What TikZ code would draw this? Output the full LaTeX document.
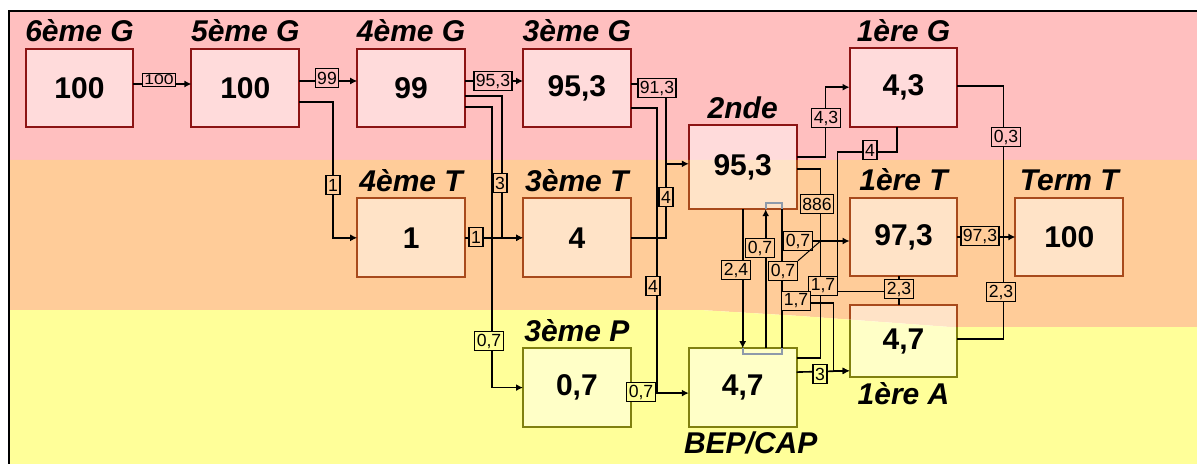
\documentclass[tikz,border=0pt]{standalone}
\usepackage{fontspec}
\setmainfont{Liberation Sans}
\usetikzlibrary{arrows.meta,positioning,calc}
\definecolor{bandP}{HTML}{FFBFBF}
\definecolor{bandO}{HTML}{FFCC99}
\definecolor{bandY}{HTML}{FFFF99}
\definecolor{edgeP}{HTML}{8C1414}
\definecolor{edgeO}{HTML}{A84A1C}
\definecolor{edgeY}{HTML}{808010}
\definecolor{selGray}{HTML}{8E9AAA}

\begin{document}
\begin{tikzpicture}[
    x=0.5pt, y=-0.5pt,
    node distance=35.5pt and 29pt,
    cls/.style={rectangle, fill=white, fill opacity=0.45, text opacity=1, inner sep=0pt, minimum width=53.5pt, minimum height=39pt, font=\fontsize{15}{17}\selectfont\bfseries},
    ttl/.style={inner sep=0pt, font=\fontsize{15}{17}\selectfont\bfseries\itshape},
    lbl/.style={draw, line width=0.7pt, fill=bandO, inner xsep=1pt, inner ysep=0pt, minimum height=9.5pt, font=\fontsize{8.8}{9}\selectfont},
    lblp/.style={lbl, fill=bandP},
    lbly/.style={lbl, fill=bandY},
    link/.style={line width=0.8pt},
    arrow/.style={link, -{Latex[length=3.5pt,width=3.5pt]}},
    rim/.style={line width=1pt}
  ]
  \useasboundingbox (0,0) rectangle (1197,464);
  % background bands
  \fill[bandP] (9,11) rectangle (1197,160);
  \fill[bandO] (9,160) -- (1197,160) -- (1197,327) -- (950,327) -- (800,316) -- (700,310) -- (9,310) -- cycle;
  \fill[bandY] (9,310) -- (700,310) -- (800,316) -- (950,327) -- (1197,327) -- (1197,464) -- (9,464) -- cycle;
  \draw[line width=1pt] (9,464) -- (9,11) -- (1197,11);

  % classes
  \node[cls] (g6) at (79.5,88) {100};
  \node[cls, right=of g6] (g5) {100};
  \node[cls, right=of g5] (g4) {99};
  \node[cls, right=of g4] (g3) {95,3};
  \node[cls, below=of g4] (t4) {1};
  \node[cls, below=of g3] (t3) {4};
  \node[cls, below=of t3] (p3) {0,7};
  \node[cls, right=of p3] (bep) {4,7};
  \node[cls, minimum height=41.5pt, above=69.5pt of bep] (sec) {95,3};
  \node[cls] (t1) at (903.5,237) {97,3};
  \node[cls, above=of t1] (g1) {4,3};
  \node[cls, right=of t1] (tt) {100};
  \node[cls, minimum height=35.5pt, below=14.5pt of t1] (a1) {4,7};

  \node[ttl, above=3pt of g6] (n6g) {6ème G};
  \node[ttl, above=3pt of g5] (n5g) {5ème G};
  \node[ttl, above=3pt of g4] (n4g) {4ème G};
  \node[ttl, above=3pt of g3] (n3g) {3ème G};
  \node[ttl, above=3pt of sec] (nsec) {2nde};
  \node[ttl, above=3pt of g1] (n1g) {1ère G};
  \node[ttl, above=3pt of t4] (n4t) {4ème T};
  \node[ttl, above=3pt of t3] (n3t) {3ème T};
  \node[ttl, above=3pt of t1] (n1t) {1ère T};
  \node[ttl, above=3pt of tt] (ntt) {Term T};
  \node[ttl, above=3pt of p3] (n3p) {3ème P};
  \node[ttl, below=2.3pt of bep, xshift=4pt] (nbep) {BEP/CAP};
  \node[ttl, below=2.5pt of a1] (n1a) {1ère A};

  % box edges take the colour of their band
  \begin{scope}
    \clip (9,11) rectangle (1197,160);
    \draw[rim, edgeP] (g6.south west) rectangle (g6.north east) (g5.south west) rectangle (g5.north east)
      (g4.south west) rectangle (g4.north east) (g3.south west) rectangle (g3.north east)
      (sec.south west) rectangle (sec.north east) (g1.south west) rectangle (g1.north east);
  \end{scope}
  \begin{scope}
    \clip (9,160) -- (1197,160) -- (1197,327) -- (950,327) -- (800,316) -- (700,310) -- (9,310) -- cycle;
    \draw[rim, edgeO] (t4.south west) rectangle (t4.north east) (t3.south west) rectangle (t3.north east)
      (t1.south west) rectangle (t1.north east) (tt.south west) rectangle (tt.north east)
      (sec.south west) rectangle (sec.north east) (a1.south west) rectangle (a1.north east);
  \end{scope}
  \begin{scope}
    \clip (9,310) -- (700,310) -- (800,316) -- (950,327) -- (1197,327) -- (1197,464) -- (9,464) -- cycle;
    \draw[rim, edgeY] (p3.south west) rectangle (p3.north east) (bep.south west) rectangle (bep.north east)
      (a1.south west) rectangle (a1.north east);
  \end{scope}

  % college
  \draw[arrow] ($(g6.east)+(0,-4)$) -- ($(g5.west)+(0,-4)$);
  \draw[arrow] ($(g5.east)+(0,-7)$) -- ($(g4.west)+(0,-7)$);
  \draw[arrow] ($(g5.east)+(0,14)$) -| ($(t4.west)+(-24,0)$) -- (t4.west);
  \draw[arrow] ($(g4.east)+(0,-7)$) -- ($(g3.west)+(0,-7)$);
  \draw[arrow] ($(g4.east)+(0,8)$) -| ($(t3.west)+(-21,0)$) -- (t3.west);
  \draw[arrow] ($(g4.east)+(0,19)$) -| ($(p3.west)+(-31,0)$) -- (p3.west);
  \draw[arrow] (t4) -- (t3);

  % into 2nde and BEP/CAP
  \coordinate (jS) at ($(sec.west)+(-23,-3.5)$);
  \draw[link] ($(g3.east)+(0,-4)$) -| (jS);
  \draw[link] (t3.east) -| (jS);
  \draw[arrow] (jS) -- ($(sec.west)+(0,-3.5)$);
  \draw[arrow] ($(g3.east)+(0,20)$) -| ($(bep.west)+(-32,5.5)$) -- ($(bep.west)+(0,5.5)$);
  \draw[link] ($(p3.east)+(0,5.5)$) -- ($(bep.west)+(-32,5.5)$);

  % out of 2nde and BEP/CAP
  \draw[arrow] ($(sec.east)+(0,-10.5)$) -| ($(g1.west)+(-24,0)$) -- (g1.west);
  \coordinate (jT) at ($(t1.west)+(-29,4)$);
  \draw[link] ($(sec.east)+(0,1.5)$) -| (jT);
  \draw[arrow] (jT) -- ($(t1.west)+(0,4)$);
  \draw[link] ($(bep.east)+(0,-29.5)$) -| (jT);
  \draw[arrow] (sec.south) -- (sec.south |- bep.north);
  \draw[arrow] ($(bep.north)+(23,0)$) -- ($(sec.south)+(23,0)$);
  \coordinate (xv) at ($(sec.south)+(39,0)$);
  \draw[link] (xv) -- (xv |- bep.north);
  \draw[link] (xv |- jT) -- (jT);
  \coordinate (jA) at ($(a1.west)+(-16,29.5)$);
  \draw[arrow] ($(xv)+(0,94)$) -| (jA) -- ($(a1.west)+(0,29.5)$);
  \draw[arrow] ($(bep.east)+(0,-15.5)$) -- ($(a1.west)+(0,29.5)$);

  % premieres to Term T
  \draw[link] ($(g1.south)+(-6.5,0)$) |- ($(t1.west)+(-12,-85)$) |- ($(t1.south)+(-4.5,15)$);
  \draw[link] ($(t1.south)+(-4.5,0)$) -- ($(a1.north)+(-4.5,0)$);
  \coordinate (jE) at ($(tt.west)+(-12,0)$);
  \draw[link] ($(g1.east)+(0,-1)$) -| (jE);
  \draw[link] ($(a1.east)+(0,-2.5)$) -| (jE);
  \draw[arrow] (t1) -- (tt);

  % grey selection marks
  \draw[selGray, line width=0.8pt] ($(sec.south)+(23,0)$) -- ++(0,-6) -| (xv);
  \draw[selGray, line width=0.8pt] (bep.north) -- ++(0,6) -| (xv |- bep.north);

  % flow values
  \node[lblp, minimum height=6.5pt] (l100) at (159,80) {\scalebox{1}[0.8]{100}};
  \node[lblp] (l99) at (327,78) {99};
  \node[lbl] (l1a) at (333,185) {1};
  \node[lblp] (l953) at (493,81) {95,3};
  \node[lbl] (l3a) at (500,183) {3};
  \node[lbly] (l07a) at (489,341) {0,7};
  \node[lbl] (l1b) at (476,237) {1};
  \node[lblp] (l913) at (657,88) {91,3};
  \node[lbl] (l4a) at (666,197) {4};
  \node[lbl] (l4b) at (653,286) {4};
  \node[lbly] (l07b) at (641,392) {0,7};
  \node[lblp] (l43) at (826,118) {4,3};
  \node[lblp] (l4c) at (870,150) {4};
  \node[lblp] (l03) at (1006,137) {0,3};
  \node[lbl] (l886) at (817,204) {886};
  \node[lbl] (l07c) at (798,241) {0,7};
  \node[lbl] (l07d) at (760,248) {0,7};
  \node[lbl] (l07e) at (783,271) {0,7};
  \node[lbl] (l24) at (736,270) {2,4};
  \node[lbl] (l17a) at (823,286) {1,7};
  \node[lbl] (l17b) at (796,301) {1,7};
  \node[lbl] (l23a) at (899,289) {2,3};
  \node[lbl] (l973) at (980,236) {97,3};
  \node[lbl] (l23b) at (1001,292) {2,3};
  \node[lbly] (l3b) at (820,374) {3};
  \draw[line width=0.5pt] (l07e.north east) -- (jT);
\end{tikzpicture}
\end{document}
